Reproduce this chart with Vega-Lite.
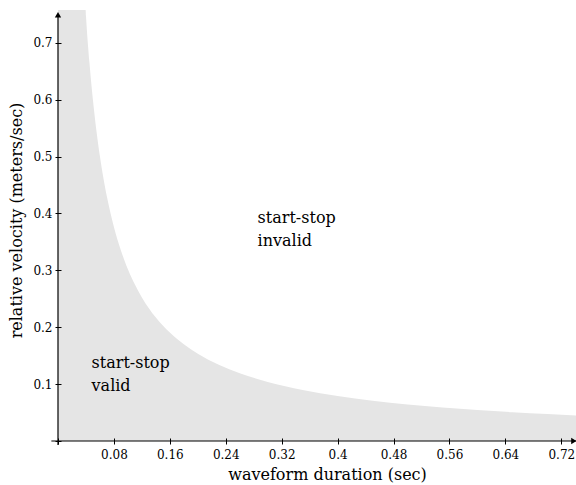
{
  "$schema": "https://vega.github.io/schema/vega-lite/v6.json",
  "width": 518,
  "height": 431,
  "autosize": "none",
  "padding": {"left": 58, "top": 10, "right": 0, "bottom": 44},
  "background": "white",
  "config": {"view": {"stroke": null}, "font": "DejaVu Serif"},
  "datasets": {
    "curve": [
      {"x": 0, "y": 0.7575},
      {"x": 0.0395, "y": 0.7575},
      {"x": 0.04, "y": 0.7474},
      {"x": 0.045, "y": 0.6649},
      {"x": 0.05, "y": 0.5989},
      {"x": 0.055, "y": 0.5449},
      {"x": 0.06, "y": 0.4999},
      {"x": 0.065, "y": 0.4618},
      {"x": 0.07, "y": 0.4292},
      {"x": 0.08, "y": 0.3762},
      {"x": 0.09, "y": 0.3349},
      {"x": 0.1, "y": 0.3019},
      {"x": 0.11, "y": 0.2749},
      {"x": 0.12, "y": 0.2524},
      {"x": 0.14, "y": 0.217},
      {"x": 0.16, "y": 0.1905},
      {"x": 0.18, "y": 0.1699},
      {"x": 0.2, "y": 0.1534},
      {"x": 0.23, "y": 0.134},
      {"x": 0.26, "y": 0.1191},
      {"x": 0.3, "y": 0.1039},
      {"x": 0.35, "y": 0.0898},
      {"x": 0.4, "y": 0.0792},
      {"x": 0.45, "y": 0.0709},
      {"x": 0.5, "y": 0.0643},
      {"x": 0.55, "y": 0.0589},
      {"x": 0.6, "y": 0.0544},
      {"x": 0.65, "y": 0.0506},
      {"x": 0.7, "y": 0.0473},
      {"x": 0.741, "y": 0.045}
    ],
    "notes": [
      {"x": 0.2855, "y": 0.384, "text": "start-stop\ninvalid"},
      {"x": 0.048, "y": 0.1276, "text": "start-stop\nvalid"}
    ],
    "arrows": [
      {"x": 0, "y": 0.749, "shape": "triangle-up"},
      {"x": 0.738, "y": 0, "shape": "triangle-right"}
    ],
    "one": [{}]
  },
  "layer": [
    {
      "data": {"name": "curve"},
      "mark": {"type": "area", "color": "#e5e5e5", "interpolate": "monotone"},
      "encoding": {
        "x": {
          "field": "x", "type": "quantitative",
          "scale": {"domain": [0, 0.741], "nice": false, "zero": false},
          "axis": {
            "values": [0, 0.08, 0.16, 0.24, 0.32, 0.4, 0.48, 0.56, 0.64, 0.72],
            "labelExpr": "datum.value == 0 ? '' : format(datum.value, '.2~f')",
            "domain": false, "grid": false, "zindex": 1,
            "tickSize": 6, "offset": -3, "tickColor": "black", "tickWidth": 1,
            "labelPadding": 5, "labelFontSize": 12, "labelColor": "black",
            "labelFont": "DejaVu Serif",
            "title": "waveform duration (sec)", "titleFontSize": 16,
            "titleFontWeight": "normal", "titleColor": "black",
            "titleFont": "DejaVu Serif", "titlePadding": 6, "titleX": 269
          }
        },
        "y": {
          "field": "y", "type": "quantitative",
          "scale": {"domain": [0, 0.7575], "nice": false, "zero": false},
          "axis": {
            "values": [0, 0.1, 0.2, 0.3, 0.4, 0.5, 0.6, 0.7],
            "labelExpr": "datum.value == 0 ? '' : format(datum.value, '.1f')",
            "domain": false, "grid": false, "zindex": 1,
            "tickSize": 6, "offset": -3, "tickColor": "black", "tickWidth": 1,
            "labelPadding": 3, "labelFontSize": 12, "labelColor": "black",
            "labelFont": "DejaVu Serif",
            "title": "relative velocity (meters/sec)", "titleFontSize": 16,
            "titleFontWeight": "normal", "titleColor": "black",
            "titleFont": "DejaVu Serif", "titlePadding": 8, "titleY": 210
          }
        }
      }
    },
    {
      "data": {"name": "one"},
      "mark": {"type": "rule", "color": "black", "strokeWidth": 1.2},
      "encoding": {"x": {"datum": -0.0095}, "x2": {"datum": 0.741}, "y": {"datum": 0}}
    },
    {
      "data": {"name": "one"},
      "mark": {"type": "rule", "color": "black", "strokeWidth": 1.2},
      "encoding": {"x": {"datum": 0}, "y": {"datum": -0.007}, "y2": {"datum": 0.75}}
    },
    {
      "data": {"name": "arrows"},
      "mark": {"type": "point", "filled": true, "color": "black", "size": 40, "opacity": 1},
      "encoding": {
        "x": {"field": "x", "type": "quantitative"},
        "y": {"field": "y", "type": "quantitative"},
        "shape": {"field": "shape", "type": "nominal", "scale": null, "legend": null}
      }
    },
    {
      "data": {"name": "notes"},
      "mark": {"type": "text", "align": "left", "baseline": "alphabetic", "fontSize": 16, "lineBreak": "\n", "lineHeight": 23, "color": "black", "font": "DejaVu Serif"},
      "encoding": {
        "x": {"field": "x", "type": "quantitative"},
        "y": {"field": "y", "type": "quantitative"},
        "text": {"field": "text", "type": "nominal"}
      }
    }
  ]
}
